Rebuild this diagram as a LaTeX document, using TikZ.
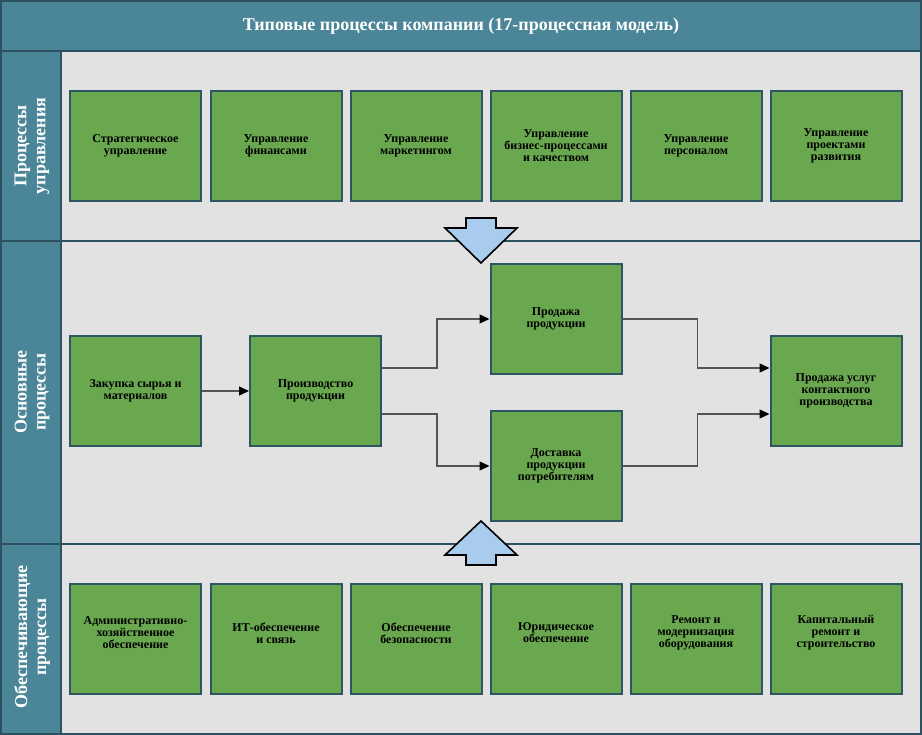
\documentclass[tikz,border=0pt]{standalone}
\usepackage{fontspec}
\setmainfont{Liberation Serif}
\usetikzlibrary{arrows.meta}
\definecolor{darkframe}{HTML}{2C5262}
\definecolor{teal}{HTML}{4B8698}
\definecolor{lanegray}{HTML}{E2E2E2}
\definecolor{boxgreen}{HTML}{6AA84F}
\definecolor{boxedge}{HTML}{2D5562}
\definecolor{arrowblue}{HTML}{A8CBEE}
\definecolor{conngray}{HTML}{555555}
\tikzset{
  x=1pt, y=-1pt,
  headcell/.style={fill=teal, draw=darkframe, line width=2pt},
  lanecell/.style={fill=lanegray, draw=darkframe, line width=2pt},
  procbox/.style={rectangle, minimum width=131pt, minimum height=110pt, fill=boxgreen,
    draw=boxedge, line width=2pt, align=center, inner sep=2pt,
    font=\fontsize{12}{12}\selectfont\bfseries},
  boxtext/.style={align=center, inner sep=0pt, font=\fontsize{12}{12}\selectfont\bfseries},
  lanelabel/.style={rotate=90, align=center, text=white, inner sep=0pt,
    font=\fontsize{18}{19}\selectfont\bfseries},
  conn/.style={draw=conngray, line width=1.3pt, -{Triangle[length=10pt,width=9pt,fill=black,color=black]}},
  blockarrow/.style={fill=arrowblue, draw=black, line width=1.6pt, line join=miter}
}
\begin{document}
\begin{tikzpicture}
\useasboundingbox (0,0) rectangle (922,735);
% frame
\path[headcell] (1,1) rectangle (921,51);
\node[text=white, font=\fontsize{18}{20}\selectfont\bfseries] (title) at (461,26) {Типовые процессы компании (17-процессная модель)};
\path[headcell] (1,51) rectangle (61,241);
\path[headcell] (1,241) rectangle (61,544);
\path[headcell] (1,544) rectangle (61,734);
\path[lanecell] (61,51) rectangle (920.5,241);
\path[lanecell] (61,241) rectangle (920.5,544);
\path[lanecell] (61,544) rectangle (920.5,734);
% lane labels
\node[lanelabel] (l1) at (32,146) {Процессы\\управления};
\node[lanelabel] (l2) at (32,392) {Основные\\процессы};
\node[lanelabel] (l3) at (32,637) {Обеспечивающие\\процессы};
% management
\node[procbox] (m1) at (135.5,146) {Стратегическое\\управление};
\node[procbox] (m2) at (276,146) {Управление\\финансами};
\node[procbox] (m3) at (416,146) {Управление\\маркетингом};
\node[procbox] (m4) at (556,146) {Управление\\бизнес-процессами\\и качеством};
\node[procbox] (m5) at (696,146) {Управление\\персоналом};
\node[procbox] (m6) at (836,146) {Управление\\проектами\\развития};
% core
\node[procbox] (buy) at (135.5,391) {Закупка сырья и\\материалов};
\node[procbox] (prod) at (315.5,391) {Производство\\продукции};
\node[procbox] (sale) at (556,319) {Продажа\\продукции};
\node[procbox] (deliv) at (556,466) {Доставка\\продукции\\потребителям};
\node[procbox] (contract) at (836,391) {Продажа услуг\\контактного\\производства};
% support
\node[procbox, label={[boxtext,yshift=5.5pt]center:{Административно-\\хозяйственное\\обеспечение}}] (s1) at (135.5,638.5) {};
\node[procbox, label={[boxtext,yshift=5.5pt]center:{ИТ-обеспечение\\и связь}}] (s2) at (276,638.5) {};
\node[procbox, label={[boxtext,yshift=5.5pt]center:{Обеспечение\\безопасности}}] (s3) at (416,638.5) {};
\node[procbox, label={[boxtext,yshift=5.5pt]center:{Юридическое\\обеспечение}}] (s4) at (556,638.5) {};
\node[procbox, label={[boxtext,yshift=5.5pt]center:{Ремонт и\\модернизация\\оборудования}}] (s5) at (696,638.5) {};
\node[procbox, label={[boxtext,yshift=5.5pt]center:{Капитальный\\ремонт и\\строительство}}] (s6) at (836,638.5) {};
% connectors
\draw[conn] (buy.east) -- (prod.west);
\draw[conn] ([yshift=23pt]prod.east) -- ++(55,0) |- (sale.west);
\draw[conn] ([yshift=-23pt]prod.east) -- ++(55,0) |- (deliv.west);
\draw[conn] (sale.east) -- ++(75,0) |- ([yshift=23pt]contract.west);
\draw[conn] (deliv.east) -- ++(75,0) |- ([yshift=-23pt]contract.west);
% block arrows
\draw[blockarrow] (466,218) -- (496,218) -- (496,228) -- (517,228) -- (481,263) -- (445,228) -- (466,228) -- cycle;
\draw[blockarrow] (466,565) -- (496,565) -- (496,555) -- (517,555) -- (481,521) -- (445,555) -- (466,555) -- cycle;
\end{tikzpicture}
\end{document}
